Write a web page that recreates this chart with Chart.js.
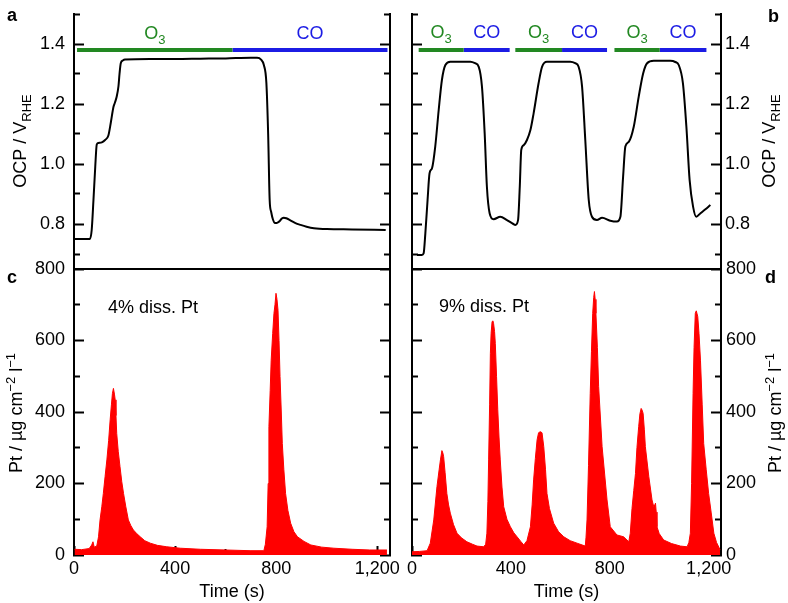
<!DOCTYPE html>
<html><head><meta charset="utf-8">
<script src="https://cdn.jsdelivr.net/npm/chart.js@4.4.1/dist/chart.umd.min.js"></script>
<style>
html,body{margin:0;padding:0;background:#fff;}
#wrap{position:relative;width:788px;height:603px;background:#fff;}
canvas{position:absolute;left:0;top:0;}
</style></head><body>
<div id="wrap">
<canvas id="ca" width="788" height="603"></canvas>
<canvas id="cb" width="788" height="603"></canvas>
<canvas id="cc" width="788" height="603"></canvas>
<canvas id="cd" width="788" height="603"></canvas>
</div>
<script>
// ---------- tick values ----------
const timeTicksMajor = [0, 400, 800, 1200];
const timeTicksMinor = [200, 600, 1000];
const ocpTicksMajor = [0.8, 1.0, 1.2, 1.4];
const ocpTicksMinor = [0.7, 0.9, 1.1, 1.3, 1.5];
const ptTicksMajor = [0, 200, 400, 600, 800];
const ptTicksMinor = [100, 300, 500, 700];

// ---------- gas periods (s) ----------
const gasLevel = 1.38;
const gasA_O3 = [[12, 627]];
const gasA_CO = [[627, 1240]];
const gasB_O3 = [[27, 209], [418, 607], [819, 1002]];
const gasB_CO = [[209, 395], [607, 789], [1002, 1191]];

// ---------- panel a: OCP ----------
const ocpA_time = [4, 63, 70, 77, 84, 90, 96, 110, 123, 136, 146, 156, 162, 169, 176, 180, 185, 193, 202, 300, 400, 500, 600, 700, 724, 740, 751, 761, 768, 774, 780, 787, 795, 801, 808, 814, 822, 830, 840, 856, 876, 896, 920, 949, 1000, 1100, 1233];
const ocpA_value = [0.75, 0.75, 0.78, 0.88, 0.99, 1.065, 1.07, 1.072, 1.08, 1.095, 1.14, 1.19, 1.205, 1.225, 1.26, 1.30, 1.336, 1.345, 1.348, 1.35, 1.35, 1.351, 1.352, 1.354, 1.354, 1.348, 1.33, 1.27, 1.10, 0.88, 0.84, 0.815, 0.803, 0.803, 0.806, 0.81, 0.818, 0.821, 0.819, 0.812, 0.803, 0.797, 0.791, 0.786, 0.783, 0.782, 0.78];

// ---------- panel b: OCP ----------
const ocpB_time = [20, 40, 47, 54, 63, 71, 81, 94, 108, 121, 135, 155, 236, 255, 270, 283, 294, 303, 314, 330, 357, 384, 410, 418, 429, 436, 442, 452, 465, 479, 492, 512, 526, 546, 640, 660, 674, 688, 701, 715, 728, 748, 769, 802, 829, 843, 854, 863, 877, 897, 917, 935, 951, 978, 1045, 1065, 1079, 1096, 1110, 1123, 1137, 1150, 1167, 1187, 1207];
const ocpB_value = [0.697, 0.697, 0.702, 0.769, 0.88, 0.969, 0.986, 1.058, 1.18, 1.28, 1.33, 1.341, 1.341, 1.336, 1.324, 1.258, 1.102, 0.924, 0.836, 0.816, 0.824, 0.813, 0.8, 0.797, 0.813, 0.924, 1.047, 1.063, 1.08, 1.113, 1.169, 1.269, 1.324, 1.341, 1.341, 1.336, 1.324, 1.258, 1.08, 0.88, 0.824, 0.813, 0.821, 0.811, 0.808, 0.824, 0.958, 1.058, 1.074, 1.124, 1.224, 1.302, 1.336, 1.344, 1.344, 1.34, 1.33, 1.269, 1.124, 0.947, 0.858, 0.824, 0.836, 0.849, 0.863];

// ---------- panel c: dissolved Pt ----------
const ptC_time = [2, 30, 60, 70, 75, 80, 90, 97, 103, 110, 116, 123, 130, 137, 143, 148, 152, 156, 160, 163, 166, 169, 175, 182, 189, 196, 205, 215, 225, 235, 248, 262, 280, 302, 330, 367, 420, 500, 600, 700, 751, 757, 764, 768, 771, 776, 780, 786, 791, 795, 799, 803, 807, 811, 815, 820, 824, 830, 837, 846, 857, 870, 884, 910, 937, 980, 1028, 1100, 1170, 1238];
const ptC_value = [16, 15, 18, 28, 37, 22, 25, 51, 98, 135, 172, 220, 266, 320, 378, 420, 452, 466, 450, 434, 390, 340, 290, 247, 205, 172, 135, 98, 82, 70, 60, 51, 40, 33, 27, 23, 19, 16, 14, 12, 12, 30, 79, 200, 359, 460, 545, 620, 676, 700, 732, 715, 685, 600, 499, 400, 312, 240, 172, 125, 89, 65, 51, 38, 28, 22, 19, 16, 14, 14];

// ---------- panel d: dissolved Pt ----------
const ptD_time = [0, 30, 61, 74, 88, 101, 110, 115, 121, 125, 128, 134, 141, 148, 155, 168, 182, 200, 222, 245, 263, 290, 298, 303, 307, 310, 314, 317, 320, 324, 327, 330, 334, 337, 342, 347, 352, 357, 364, 371, 384, 398, 412, 425, 440, 452, 465, 479, 486, 492, 499, 506, 512, 519, 526, 533, 540, 546, 556, 573, 593, 614, 640, 668, 701, 704, 708, 714, 721, 726, 731, 735, 738, 741, 744, 750, 755, 769, 789, 802, 829, 856, 877, 883, 890, 897, 904, 910, 917, 922, 927, 931, 935, 940, 944, 958, 971, 978, 982, 985, 988, 991, 1000, 1018, 1050, 1086, 1113, 1120, 1126, 1131, 1137, 1141, 1146, 1150, 1156, 1161, 1167, 1174, 1180, 1190, 1200, 1210, 1221, 1232, 1246];
const ptD_value = [9, 10, 12, 33, 98, 191, 240, 266, 292, 285, 275, 230, 172, 140, 117, 85, 61, 48, 37, 30, 25, 23, 30, 61, 150, 266, 420, 564, 620, 653, 655, 648, 625, 592, 500, 406, 330, 266, 190, 135, 100, 79, 62, 51, 38, 28, 40, 79, 140, 210, 270, 322, 342, 345, 342, 303, 240, 172, 130, 89, 65, 51, 40, 33, 25, 50, 98, 250, 452, 570, 676, 720, 737, 715, 676, 580, 471, 303, 154, 79, 56, 51, 37, 61, 130, 180, 228, 300, 359, 395, 410, 405, 396, 350, 303, 219, 154, 135, 140, 145, 120, 79, 60, 42, 32, 25, 23, 35, 61, 200, 452, 580, 676, 683, 667, 620, 545, 420, 312, 240, 172, 120, 61, 35, 15];

// ---------- text ----------
const ocpTitle = [{t: 'OCP / V'}, {t: 'RHE', sub: true}];
const ptTitle = [{t: 'Pt / \u00b5g cm'}, {t: '\u22122', sup: true}, {t: ' l'}, {t: '\u22121', sup: true}];
const o3Label = [{t: 'O'}, {t: '3', sub: true}];
const coLabel = [{t: 'CO'}];
const dissC = '4% diss. Pt';
const dissD = '9% diss. Pt';
const timeTitle = 'Time (s)';

const FONT = '"Liberation Sans", Arial, Helvetica, sans-serif';
const GREEN = 'rgb(34,136,34)';
const BLUE = 'rgb(28,28,228)';
const RED = 'rgb(255,0,0)';
Chart.defaults.font.family = FONT;
Chart.defaults.font.size = 18;
Chart.defaults.color = '#000';

const T_MAX = 1250;

function pts(xs, ys) { return xs.map((x, i) => ({x: x, y: ys[i]})); }
function segs(list, level) {
  const out = [];
  list.forEach(function (s) { out.push({x: s[0], y: level}, {x: s[1], y: level}, {x: s[1], y: null}); });
  return out;
}
function fmtTime(v) { return v >= 1000 ? Math.floor(v / 1000) + ',' + String(v % 1000).padStart(3, '0') : String(v); }
function fmtOcp(v) { return v.toFixed(1); }
function fmtPt(v) { return String(v); }

function axis(o) {
  return {
    type: 'linear', position: o.pos, min: o.min, max: o.max, weight: o.weight || 0,
    afterBuildTicks: function (s) { s.ticks = o.vals.map(function (v) { return {value: v}; }); },
    afterFit: function (s) {
      if (o.w !== undefined) s.width = o.w;
      if (o.h !== undefined) s.height = o.h;
      s.paddingLeft = 0; s.paddingRight = 0; s.paddingTop = 0; s.paddingBottom = 0;
    },
    grid: {display: true, drawOnChartArea: false, drawTicks: o.len > 0, tickLength: -(o.len || 0), tickWidth: 2, tickColor: '#000'},
    border: {display: o.border !== false, color: '#000', width: 2},
    ticks: {display: !!o.label, autoSkip: false, maxRotation: 0, minRotation: 0, padding: o.pad || 0,
      callback: o.label || function () { return ''; }, color: '#000', font: {size: 18}},
    title: o.title ? {display: true, text: o.title, color: '#000', font: {size: 18}, padding: {top: 0, bottom: 0}} : {display: false}
  };
}

function drawRich(ctx, parts, x, y, o) {
  const base = o.size || 18;
  ctx.save();
  ctx.translate(x, y);
  if (o.rotate) ctx.rotate(o.rotate);
  ctx.fillStyle = o.color || '#000';
  ctx.textBaseline = 'alphabetic';
  ctx.textAlign = 'left';
  const fontOf = function (p) { return (o.bold ? 'bold ' : '') + ((p.sub || p.sup) ? Math.round(base * 0.7) : base) + 'px ' + FONT; };
  const widths = parts.map(function (p) { ctx.font = fontOf(p); return ctx.measureText(p.t).width; });
  const total = widths.reduce(function (a, b) { return a + b; }, 0);
  let cx = o.align === 'center' ? -total / 2 : (o.align === 'right' ? -total : 0);
  parts.forEach(function (p, i) {
    ctx.font = fontOf(p);
    const dy = p.sub ? base * 0.26 : (p.sup ? -base * 0.40 : 0);
    ctx.fillText(p.t, cx, dy);
    cx += widths[i];
  });
  ctx.restore();
}

function textPlugin(items) {
  return {
    id: 'richText',
    afterDraw: function (chart) {
      items.forEach(function (it) {
        const p = typeof it.at === 'function' ? it.at(chart) : it.at;
        drawRich(chart.ctx, it.parts, p[0], p[1], it);
      });
    }
  };
}

function gasItems(o3, co, baselineOffset) {
  const items = [];
  o3.forEach(function (s) {
    items.push({parts: o3Label, align: 'center', color: GREEN,
      at: function (c) { return [c.scales.x.getPixelForValue((s[0] + s[1]) / 2), c.scales.y.getPixelForValue(gasLevel) - baselineOffset]; }});
  });
  co.forEach(function (s) {
    items.push({parts: coLabel, align: 'center', color: BLUE,
      at: function (c) { return [c.scales.x.getPixelForValue((s[0] + s[1]) / 2), c.scales.y.getPixelForValue(gasLevel) - baselineOffset]; }});
  });
  return items;
}

function baseOpts(padding, scales) {
  return {
    responsive: false, animation: false, devicePixelRatio: 1, events: [],
    layout: {padding: padding},
    plugins: {legend: {display: false}, tooltip: {enabled: false}},
    scales: scales
  };
}

function ocpDatasets(time, value, o3, co) {
  return [
    {data: pts(time, value), borderColor: '#000', borderWidth: 2, pointRadius: 0, fill: false, cubicInterpolationMode: 'monotone'},
    {data: segs(o3, gasLevel), borderColor: GREEN, borderWidth: 4, pointRadius: 0, fill: false, spanGaps: false},
    {data: segs(co, gasLevel), borderColor: BLUE, borderWidth: 4, pointRadius: 0, fill: false, spanGaps: false}
  ];
}

function ptDatasets(time, value) {
  return [{data: pts(time, value), borderColor: RED, backgroundColor: RED, borderWidth: 1, pointRadius: 0, fill: 'origin', tension: 0}];
}

const OCP_MIN = 0.65, OCP_MAX = 1.5, PT_MIN = 0, PT_MAX = 800;

// ----- chart a -----
new Chart(document.getElementById('ca'), {
  type: 'line',
  data: {datasets: ocpDatasets(ocpA_time, ocpA_value, gasA_O3, gasA_CO)},
  options: baseOpts({left: 0, right: 398, top: 14, bottom: 334}, {
    x: axis({pos: 'bottom', min: 0, max: T_MAX, vals: timeTicksMajor, len: 0, h: 0}),
    y: axis({pos: 'left', min: OCP_MIN, max: OCP_MAX, vals: ocpTicksMajor, len: 10, label: fmtOcp, pad: 19, w: 74, weight: 1}),
    yMinL: axis({pos: 'left', min: OCP_MIN, max: OCP_MAX, vals: ocpTicksMinor, len: 6, w: 0, weight: 0}),
    yR: axis({pos: 'right', min: OCP_MIN, max: OCP_MAX, vals: ocpTicksMajor, len: 10, w: 0}),
    yMinR: axis({pos: 'right', min: OCP_MIN, max: OCP_MAX, vals: ocpTicksMinor, len: 6, w: 0})
  }),
  plugins: [textPlugin(gasItems(gasA_O3, gasA_CO, 11).concat([
    {parts: ocpTitle, at: [26, 141], rotate: -Math.PI / 2, align: 'center'},
    {parts: [{t: 'a'}], at: [7, 21], bold: true}
  ]))]
});

// ----- chart b -----
new Chart(document.getElementById('cb'), {
  type: 'line',
  data: {datasets: ocpDatasets(ocpB_time, ocpB_value, gasB_O3, gasB_CO)},
  options: baseOpts({left: 412, right: 0, top: 14, bottom: 334}, {
    x: axis({pos: 'bottom', min: 0, max: T_MAX, vals: timeTicksMajor, len: 0, h: 0}),
    y: axis({pos: 'right', min: OCP_MIN, max: OCP_MAX, vals: ocpTicksMajor, len: 10, label: fmtOcp, pad: 14, w: 67, weight: 1}),
    yMinR: axis({pos: 'right', min: OCP_MIN, max: OCP_MAX, vals: ocpTicksMinor, len: 6, w: 0, weight: 0}),
    yL: axis({pos: 'left', min: OCP_MIN, max: OCP_MAX, vals: ocpTicksMajor, len: 10, w: 0}),
    yMinL: axis({pos: 'left', min: OCP_MIN, max: OCP_MAX, vals: ocpTicksMinor, len: 6, w: 0})
  }),
  plugins: [textPlugin(gasItems(gasB_O3, gasB_CO, 12).concat([
    {parts: ocpTitle, at: [775, 141], rotate: -Math.PI / 2, align: 'center'},
    {parts: [{t: 'b'}], at: [768, 22], bold: true}
  ]))]
});

// ----- chart c -----
new Chart(document.getElementById('cc'), {
  type: 'line',
  data: {datasets: ptDatasets(ptC_time, ptC_value)},
  options: baseOpts({left: 0, right: 398, top: 269, bottom: 0}, {
    x: axis({pos: 'bottom', min: 0, max: T_MAX, vals: timeTicksMajor, len: 9, label: fmtTime, pad: 12, h: 48, weight: 1, border: false, title: timeTitle}),
    xMin: axis({pos: 'bottom', min: 0, max: T_MAX, vals: timeTicksMinor, len: 6, h: 0, weight: 0, border: false}),
    y: axis({pos: 'left', min: PT_MIN, max: PT_MAX, vals: ptTicksMajor, len: 10, label: fmtPt, pad: 19, w: 74, weight: 1}),
    yMinL: axis({pos: 'left', min: PT_MIN, max: PT_MAX, vals: ptTicksMinor, len: 6, w: 0, weight: 0}),
    yR: axis({pos: 'right', min: PT_MIN, max: PT_MAX, vals: ptTicksMajor, len: 10, w: 0}),
    yMinR: axis({pos: 'right', min: PT_MIN, max: PT_MAX, vals: ptTicksMinor, len: 6, w: 0})
  }),
  plugins: [textPlugin([
    {parts: ptTitle, at: [22, 413], rotate: -Math.PI / 2, align: 'center'},
    {parts: [{t: dissC}], at: [108, 313]},
    {parts: [{t: 'c'}], at: [7, 283], bold: true}
  ])]
});

// ----- chart d -----
new Chart(document.getElementById('cd'), {
  type: 'line',
  data: {datasets: ptDatasets(ptD_time, ptD_value)},
  options: baseOpts({left: 412, right: 0, top: 269, bottom: 0}, {
    x: axis({pos: 'bottom', min: 0, max: T_MAX, vals: timeTicksMajor, len: 9, label: fmtTime, pad: 12, h: 48, weight: 1, border: false, title: timeTitle}),
    xMin: axis({pos: 'bottom', min: 0, max: T_MAX, vals: timeTicksMinor, len: 6, h: 0, weight: 0, border: false}),
    y: axis({pos: 'right', min: PT_MIN, max: PT_MAX, vals: ptTicksMajor, len: 10, label: fmtPt, pad: 15, w: 67, weight: 1}),
    yMinR: axis({pos: 'right', min: PT_MIN, max: PT_MAX, vals: ptTicksMinor, len: 6, w: 0, weight: 0}),
    yL: axis({pos: 'left', min: PT_MIN, max: PT_MAX, vals: ptTicksMajor, len: 10, w: 0}),
    yMinL: axis({pos: 'left', min: PT_MIN, max: PT_MAX, vals: ptTicksMinor, len: 6, w: 0})
  }),
  plugins: [textPlugin([
    {parts: ptTitle, at: [781, 413], rotate: -Math.PI / 2, align: 'center'},
    {parts: [{t: dissD}], at: [439, 312]},
    {parts: [{t: 'd'}], at: [765, 283], bold: true}
  ])]
});
</script>
</body></html>
